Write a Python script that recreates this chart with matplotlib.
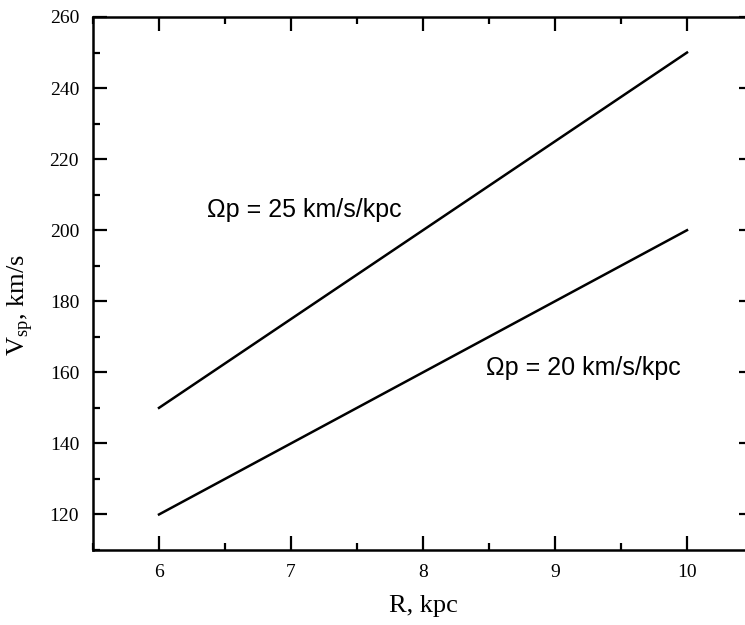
import matplotlib
matplotlib.use("Agg")
import matplotlib.pyplot as plt
from matplotlib.ticker import MultipleLocator

# pattern speeds and radii
R = [6, 7, 8, 9, 10]
V_25 = [150, 175, 200, 225, 250]
V_20 = [120, 140, 160, 180, 200]
labels = ["Ωp = 25 km/s/kpc", "Ωp = 20 km/s/kpc"]

serif = "Liberation Serif"
plt.rcParams["font.family"] = serif
plt.rcParams["mathtext.fontset"] = "custom"
plt.rcParams["mathtext.rm"] = serif

fig = plt.figure(figsize=(7.45, 6.25), dpi=100)
# right spine sits just past the image edge, as in the reference
ax = fig.add_axes([93 / 745, 75 / 625, 660 / 745, 533 / 625])

ax.plot(R, V_25, color="black", lw=1.8)
ax.plot(R, V_20, color="black", lw=1.8)

ax.set_xlim(5.5, 10.5)
ax.set_ylim(110, 260)
ax.xaxis.set_major_locator(MultipleLocator(1))
ax.xaxis.set_minor_locator(MultipleLocator(0.5))
ax.yaxis.set_major_locator(MultipleLocator(20))
ax.yaxis.set_minor_locator(MultipleLocator(10))
ax.tick_params(which="both", direction="in", top=True, right=True, width=1.6, colors="black")
ax.tick_params(which="major", length=10, pad=10, labelsize=14)
ax.tick_params(which="minor", length=5)
for s in ax.spines.values():
    s.set_linewidth(1.8)

ax.set_xlabel("R, kpc", fontsize=19, labelpad=10)
fig.text(20 / 745, 1 - 305 / 625, r"V$_{\mathregular{sp}}$, km/s", fontsize=19,
         rotation=90, ha="center", va="center")

ax.text(6.36, 203.7, labels[0], fontfamily="Liberation Sans", fontsize=18, va="baseline")
ax.text(8.475, 159.2, labels[1], fontfamily="Liberation Sans", fontsize=18, va="baseline")

fig.savefig("out.png", dpi=100)
